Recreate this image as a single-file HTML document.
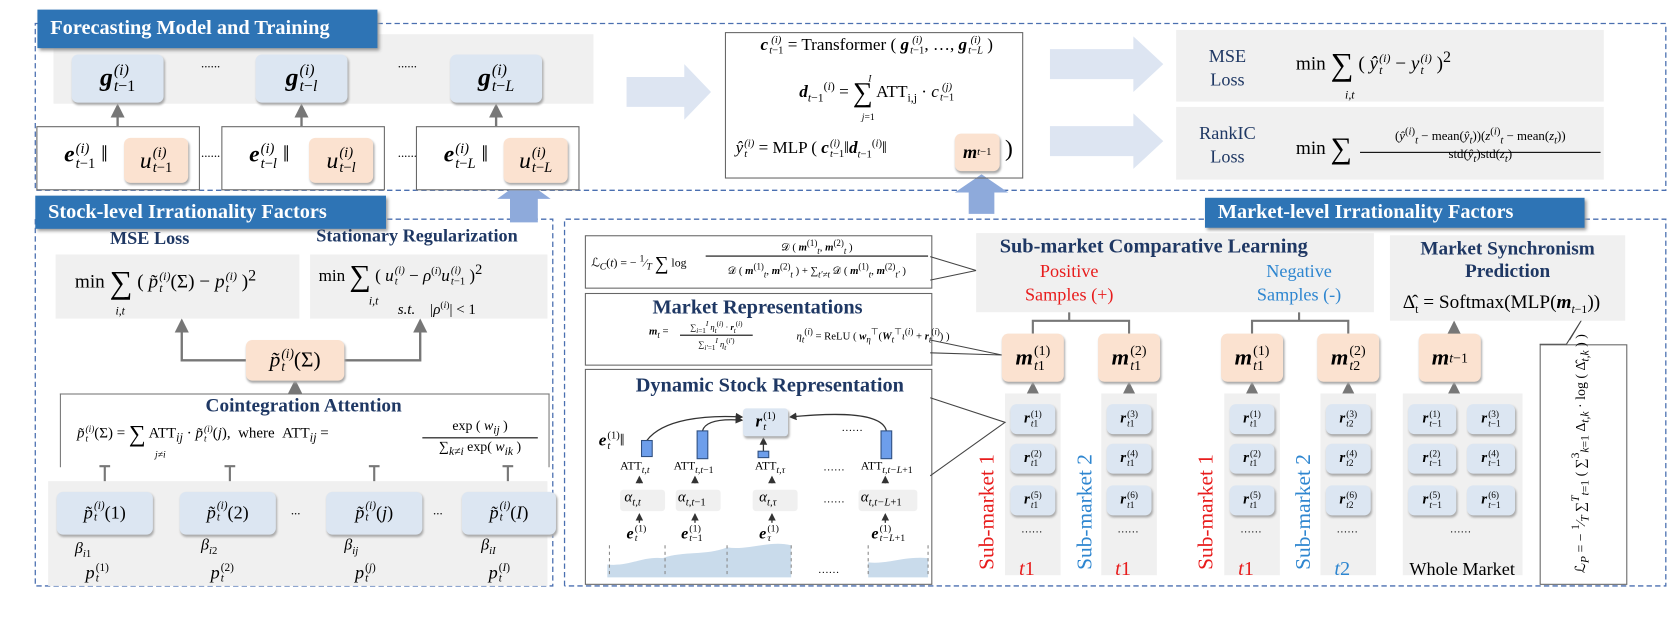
<!DOCTYPE html>
<html><head><meta charset="utf-8"><style>
body{margin:0;background:#fff;}
#w{position:absolute;left:0;top:0;width:1560px;height:593px;transform:scale(1.0692);transform-origin:0 0;font-family:"Liberation Serif",serif;color:#000;overflow:hidden}
.a{position:absolute}
.t{position:absolute;background:#2e74b5;color:#fff;font-weight:bold;font-size:19px;line-height:32px;padding-left:12px;box-shadow:2px 2px 3px #999;white-space:nowrap}
.g{position:absolute;background:#f0f0f0}
.nb{position:absolute;background:#dce6f2;border-radius:6px;box-shadow:1px 2px 2px #aaa;display:flex;align-items:center;justify-content:center;white-space:nowrap}
.np{position:absolute;background:#fbe2d0;border-radius:6px;box-shadow:1px 2px 2px #aaa;display:flex;align-items:center;justify-content:center;white-space:nowrap}
.bx{position:absolute;border:1.3px solid #666;background:transparent}
.hd{color:#1f3864;font-weight:bold}
i{font-style:italic}
.v{font-style:italic;font-weight:bold}
.ss{display:inline-flex;flex-direction:column;vertical-align:middle;line-height:1;font-size:62%;margin-left:1px}
.ss span{display:block}
.c{text-align:center;white-space:nowrap}
.red{color:#e81c1c}.blu{color:#2e86d0}
.rot{position:absolute;transform:rotate(-90deg);transform-origin:left top;white-space:nowrap;font-size:20px}
#top{position:absolute;left:0;top:0}
</style></head><body><div id="w">
<svg class="a" style="left:0;top:0" width="1560" height="593">
<defs><marker id="ar" markerWidth="6" markerHeight="6" refX="5" refY="3" orient="auto"><path d="M0,0 L6,3 L0,6z" fill="#777"/></marker>
<marker id="ak" markerWidth="6" markerHeight="6" refX="5" refY="3" orient="auto"><path d="M0,0 L6,3 L0,6z" fill="#333"/></marker></defs>
<g fill="none" stroke="#4a6fb0" stroke-width="1.2" stroke-dasharray="5,3">
<path d="M33 22 H1558 V178 H33 Z"/>
<path d="M33 205 V548 H517 V205 H361"/>
<path d="M528 548 V205 H1127 M1482 205 H1558 V548 H528"/>
</g>
<rect x="50" y="32" width="505" height="65" fill="#f0f0f0"/>
<g fill="#dde5f2">
<polygon points="586,72 640,72 640,60 665,86 640,112 640,100 586,100"/>
<polygon points="982,46 1060,46 1060,34 1088,60 1060,86 1060,74 982,74"/>
<polygon points="982,118 1060,118 1060,106 1088,132 1060,158 1060,146 982,146"/>
</g>
<g fill="#8eaadb">
<polygon points="477,208 503,208 503,186 515,186 490,168 465,186 477,186"/>
<polygon points="906,200 930,200 930,180 943,180 918,163 893,180 906,180"/>
</g>
<g stroke="#777" stroke-width="2.2" fill="none" marker-end="url(#ar)">
<path d="M110 118 V99"/><path d="M282 118 V99"/><path d="M464 118 V99"/>
<path d="M230 337 H170 V300"/><path d="M322 337 H393 V300"/>
<path d="M276 368 V357"/>
<path d="M98 535 V502"/><path d="M215 535 V502"/><path d="M350 535 V502"/><path d="M475 535 V502"/>
<path d="M966 368 V359"/><path d="M1056 368 V359"/><path d="M1171 368 V359"/><path d="M1261 368 V359"/><path d="M1360 368 V359"/>
<path d="M1360 312 V302"/>
</g>
<g stroke="#777" stroke-width="2" fill="none">
<path d="M98 460 V436 M93 436 H103"/><path d="M215 460 V436 M210 436 H220"/><path d="M350 460 V436 M345 436 H355"/><path d="M475 460 V436 M470 436 H480"/>
<path d="M966 312 V300 H1056 V312 M1000 292 V300"/>
<path d="M1171 312 V300 H1261 V312 M1215 292 V300"/>
</g>
<g fill="#f0f0f0"><rect x="940" y="368" width="52" height="170"/><rect x="1030" y="368" width="52" height="170"/><rect x="1145" y="368" width="52" height="170"/><rect x="1235" y="368" width="52" height="170"/><rect x="1312" y="368" width="112" height="170"/></g>
<rect x="45" y="450" width="467" height="98" fill="#f0f0f0"/>
</svg>

<div class="t" style="left:35px;top:9px;width:306px;height:36px;line-height:36px">Forecasting Model and Training</div>
<div class="t" style="left:33px;top:183px;width:316px;height:31px;line-height:31px">Stock-level Irrationality Factors</div>
<div class="t" style="left:1127px;top:185px;width:343px;height:28px;line-height:28px;padding-left:12px">Market-level Irrationality Factors</div>

<div class="nb" style="left:67px;top:51px;width:86px;height:45px;font-size:24px"><b class="v">g</b><span class="ss"><span><i>(i)</i></span><span><i>t</i>−1</span></span></div>
<div class="nb" style="left:239px;top:51px;width:86px;height:45px;font-size:24px"><b class="v">g</b><span class="ss"><span><i>(i)</i></span><span><i>t</i>−<i>l</i></span></span></div>
<div class="nb" style="left:421px;top:51px;width:86px;height:45px;font-size:24px"><b class="v">g</b><span class="ss"><span><i>(i)</i></span><span><i>t</i>−<i>L</i></span></span></div>
<div class="a" style="left:188px;top:52px;font-size:12px">......</div>
<div class="a" style="left:372px;top:52px;font-size:12px">......</div>
<div class="a" style="left:188px;top:136px;font-size:12px">......</div>
<div class="a" style="left:372px;top:136px;font-size:12px">......</div>

<div class="bx" style="left:34px;top:118px;width:151px;height:58px;background:#fff"></div>
<div class="bx" style="left:207px;top:118px;width:151px;height:58px;background:#fff"></div>
<div class="bx" style="left:389px;top:118px;width:151px;height:58px;background:#fff"></div>
<div class="np" style="left:116px;top:129px;width:60px;height:42px;font-size:22px"><i>u</i><span class="ss"><span><i>(i)</i></span><span><i>t</i>−1</span></span></div>
<div class="np" style="left:289px;top:129px;width:60px;height:42px;font-size:22px"><i>u</i><span class="ss"><span><i>(i)</i></span><span><i>t</i>−<i>l</i></span></span></div>
<div class="np" style="left:471px;top:129px;width:60px;height:42px;font-size:22px"><i>u</i><span class="ss"><span><i>(i)</i></span><span><i>t</i>−<i>L</i></span></span></div>
<div class="a" style="left:60px;top:131px;font-size:22px"><b class="v">e</b><span class="ss"><span><i>(i)</i></span><span><i>t</i>−1</span></span> ‖</div>
<div class="a" style="left:233px;top:131px;font-size:22px"><b class="v">e</b><span class="ss"><span><i>(i)</i></span><span><i>t</i>−<i>l</i></span></span> ‖</div>
<div class="a" style="left:415px;top:131px;font-size:22px"><b class="v">e</b><span class="ss"><span><i>(i)</i></span><span><i>t</i>−<i>L</i></span></span> ‖</div>

<div class="bx" style="left:678px;top:30px;width:277px;height:135px"></div>
<div class="a c" style="left:690px;top:33px;width:260px;font-size:16px"><b class="v">c</b><span class="ss"><span><i>(i)</i></span><span><i>t</i>−1</span></span> = Transformer ( <b class="v">g</b><span class="ss"><span><i>(i)</i></span><span><i>t</i>−1</span></span>, …, <b class="v">g</b><span class="ss"><span><i>(i)</i></span><span><i>t</i>−<i>L</i></span></span> )</div>
<div class="a c" style="left:690px;top:72px;width:260px;font-size:16px"><b class="v">d</b><sub style="font-size:11px"><i>t</i>−1</sub><sup style="font-size:11px">(<i>i</i>)</sup> = <span style="font-size:26px;vertical-align:middle">∑</span> ATT<sub style="font-size:11px">i,j</sub> · <i>c</i><span class="ss"><span><i>(j)</i></span><span><i>t</i>−1</span></span></div>
<div class="a" style="left:812px;top:68px;font-size:9px"><i>I</i></div>
<div class="a" style="left:806px;top:104px;font-size:9px"><i>j</i>=1</div>
<div class="np" style="left:893px;top:125px;width:42px;height:35px;font-size:17px"><b class="v">m</b><sub style="font-size:10px"><i>t</i>−1</sub></div>
<div class="a" style="left:688px;top:129px;font-size:16px;white-space:nowrap"><i>ŷ</i><span class="ss"><span><i>(i)</i></span><span><i>t</i></span></span> = MLP ( <b class="v">c</b><span class="ss"><span><i>(i)</i></span><span><i>t</i>−1</span></span>‖<b class="v">d</b><sub style="font-size:10px"><i>t</i>−1</sub><sup style="font-size:10px">(<i>i</i>)</sup>‖</div>
<div class="a" style="left:940px;top:126px;font-size:22px">)</div>

<div class="g" style="left:1100px;top:28px;width:400px;height:67px"></div>
<div class="g" style="left:1100px;top:100px;width:400px;height:68px"></div>
<div class="a c hd" style="left:1118px;top:42px;width:60px;font-size:17px;line-height:22px;font-weight:normal">MSE<br>Loss</div>
<div class="a c hd" style="left:1112px;top:114px;width:72px;font-size:17px;line-height:22px;font-weight:normal">RankIC<br>Loss</div>
<div class="a" style="left:1212px;top:44px;font-size:18px;white-space:nowrap">min <span style="font-size:30px;vertical-align:middle">∑</span> ( <i>ŷ</i><span class="ss"><span><i>(i)</i></span><span><i>t</i></span></span> − <i>y</i><span class="ss"><span><i>(i)</i></span><span><i>t</i></span></span> )<sup>2</sup></div>
<div class="a" style="left:1258px;top:83px;font-size:11px"><i>i,t</i></div>
<div class="a" style="left:1212px;top:124px;font-size:18px">min <span style="font-size:28px;vertical-align:middle">∑</span></div>
<div class="a c" style="left:1272px;top:114px;width:225px;font-size:12px;border-bottom:1px solid #000;line-height:20px">(<i>ŷ</i><sup>(<i>i</i>)</sup><sub><i>t</i></sub> − mean(<i>ŷ</i><sub><i>t</i></sub>))(<i>z</i><sup>(<i>i</i>)</sup><sub><i>t</i></sub> − mean(<i>z</i><sub><i>t</i></sub>))</div>
<div class="a c" style="left:1272px;top:137px;width:225px;font-size:12px">std(<i>ŷ</i><sub><i>t</i></sub>)std(<i>z</i><sub><i>t</i></sub>)</div>

<!-- left lower -->
<div class="a c hd" style="left:80px;top:213px;width:120px;font-size:17px">MSE Loss</div>
<div class="a c hd" style="left:275px;top:211px;width:230px;font-size:17px">Stationary Regularization</div>
<div class="g" style="left:52px;top:238px;width:228px;height:60px"></div>
<div class="g" style="left:290px;top:238px;width:222px;height:60px"></div>
<div class="a" style="left:70px;top:248px;font-size:18px;white-space:nowrap">min <span style="font-size:30px;vertical-align:middle">∑</span> ( <i>p̃</i><span class="ss"><span><i>(i)</i></span><span><i>t</i></span></span>(Σ) − <i>p</i><span class="ss"><span><i>(i)</i></span><span><i>t</i></span></span> )<sup>2</sup></div>
<div class="a" style="left:108px;top:285px;font-size:11px"><i>i,t</i></div>
<div class="a" style="left:298px;top:243px;font-size:16px;white-space:nowrap">min <span style="font-size:28px;vertical-align:middle">∑</span> ( <i>u</i><span class="ss"><span><i>(i)</i></span><span><i>t</i></span></span> − <i>ρ</i><sup style="font-size:10px">(<i>i</i>)</sup><i>u</i><span class="ss"><span><i>(i)</i></span><span><i>t</i>−1</span></span> )<sup>2</sup></div>
<div class="a" style="left:345px;top:276px;font-size:11px"><i>i,t</i></div>
<div class="a" style="left:372px;top:280px;font-size:14px;white-space:nowrap"><i>s.t.</i> &nbsp;&nbsp; |<i>ρ</i><sup style="font-size:9px">(<i>i</i>)</sup>| &lt; 1</div>

<div class="np" style="left:230px;top:318px;width:92px;height:38px;font-size:20px"><i>p̃</i><span class="ss"><span><i>(i)</i></span><span><i>t</i></span></span>(Σ)</div>

<div class="a" style="left:56px;top:368px;width:456px;height:68px;border:1.3px solid #777;border-bottom:none"></div>
<div class="a c hd" style="left:56px;top:369px;width:456px;font-size:18px">Cointegration Attention</div>
<div class="a" style="left:72px;top:393px;font-size:14px;white-space:nowrap"><i>p̃</i><span class="ss"><span><i>(i)</i></span><span><i>t</i></span></span>(Σ) = <span style="font-size:22px;vertical-align:middle">∑</span> ATT<sub><i>ij</i></sub> · <i>p̃</i><span class="ss"><span><i>(i)</i></span><span><i>t</i></span></span>(<i>j</i>), &nbsp;where &nbsp;ATT<sub><i>ij</i></sub> = </div>
<div class="a c" style="left:395px;top:390px;width:108px;font-size:13px;border-bottom:1px solid #000">exp ( <i>w<sub>ij</sub></i> )</div>
<div class="a c" style="left:395px;top:410px;width:108px;font-size:13px">∑<sub><i>k≠i</i></sub> exp( <i>w<sub>ik</sub></i> )</div>
<div class="a" style="left:145px;top:420px;font-size:9px"><i>j≠i</i></div>
<div class="nb" style="left:53px;top:460px;width:90px;height:40px;font-size:17px"><i>p̃</i><span class="ss"><span><i>(i)</i></span><span><i>t</i></span></span>(1)</div>
<div class="nb" style="left:168px;top:460px;width:90px;height:40px;font-size:17px"><i>p̃</i><span class="ss"><span><i>(i)</i></span><span><i>t</i></span></span>(2)</div>
<div class="nb" style="left:305px;top:460px;width:90px;height:40px;font-size:17px"><i>p̃</i><span class="ss"><span><i>(i)</i></span><span><i>t</i></span></span>(<i>j</i>)</div>
<div class="nb" style="left:432px;top:460px;width:88px;height:40px;font-size:17px"><i>p̃</i><span class="ss"><span><i>(i)</i></span><span><i>t</i></span></span>(<i>I</i>)</div>
<div class="a" style="left:272px;top:470px;font-size:12px">...</div>
<div class="a" style="left:405px;top:470px;font-size:12px">...</div>
<div class="a" style="left:70px;top:505px;font-size:15px"><i>β</i><sub style="font-size:10px"><i>i</i>1</sub></div>
<div class="a" style="left:188px;top:502px;font-size:15px"><i>β</i><sub style="font-size:10px"><i>i</i>2</sub></div>
<div class="a" style="left:322px;top:502px;font-size:15px"><i>β</i><sub style="font-size:10px"><i>ij</i></sub></div>
<div class="a" style="left:450px;top:502px;font-size:15px"><i>β</i><sub style="font-size:10px"><i>iI</i></sub></div>
<div class="a" style="left:80px;top:526px;font-size:17px"><i>p</i><span class="ss"><span>(1)</span><span><i>t</i></span></span></div>
<div class="a" style="left:197px;top:526px;font-size:17px"><i>p</i><span class="ss"><span>(2)</span><span><i>t</i></span></span></div>
<div class="a" style="left:332px;top:526px;font-size:17px"><i>p</i><span class="ss"><span>(<i>j</i>)</span><span><i>t</i></span></span></div>
<div class="a" style="left:457px;top:526px;font-size:17px"><i>p</i><span class="ss"><span>(<i>I</i>)</span><span><i>t</i></span></span></div>

<!-- right lower -->
<div class="bx" style="left:547px;top:220px;width:323px;height:48px"></div>
<div class="a" style="left:553px;top:236px;font-size:11px;white-space:nowrap">ℒ<sub><i>C</i></sub>(<i>t</i>) = − <sup>1</sup>⁄<sub><i>T</i></sub> <span style="font-size:18px;vertical-align:middle">∑</span> log</div>
<div class="a c" style="left:660px;top:223px;width:208px;font-size:10px;border-bottom:1px solid #000">𝒟 ( <b class="v">m</b><sup>(1)</sup><sub><i>t</i></sub>, <b class="v">m</b><sup>(2)</sup><sub><i>t</i></sub> )</div>
<div class="a c" style="left:660px;top:245px;width:208px;font-size:10px;white-space:nowrap">𝒟 ( <b class="v">m</b><sup>(1)</sup><sub><i>t</i></sub>, <b class="v">m</b><sup>(2)</sup><sub><i>t</i></sub> ) + ∑<sub><i>t′≠t</i></sub> 𝒟 ( <b class="v">m</b><sup>(1)</sup><sub><i>t</i></sub>, <b class="v">m</b><sup>(2)</sup><sub><i>t′</i></sub> )</div>

<div class="bx" style="left:547px;top:274px;width:323px;height:66px"></div>
<div class="a c hd" style="left:547px;top:277px;width:323px;font-size:19px">Market Representations</div>
<div class="a" style="left:607px;top:305px;font-size:10px;white-space:nowrap"><b class="v">m</b><sub><i>t</i></sub> = </div>
<div class="a c" style="left:636px;top:300px;width:68px;font-size:8px;border-bottom:1px solid #000">∑<sub><i>i</i>=1</sub><sup><i>I</i></sup> <i>η</i><sub><i>t</i></sub><sup>(<i>i</i>)</sup> · <b class="v">r</b><sub><i>t</i></sub><sup>(<i>i</i>)</sup></div>
<div class="a c" style="left:636px;top:316px;width:68px;font-size:8px">∑<sub><i>i′</i>=1</sub><sup><i>I</i></sup> <i>η</i><sub><i>t</i></sub><sup>(<i>i′</i>)</sup></div>
<div class="a" style="left:745px;top:305px;font-size:10px;white-space:nowrap"><i>η</i><sub><i>t</i></sub><sup>(<i>i</i>)</sup> = ReLU ( <b class="v">w</b><sub><i>η</i></sub><sup>⊤</sup>(<b class="v">W</b><sub><i>t</i></sub><sup>⊤</sup><i>ι</i><sup>(<i>i</i>)</sup> + <b class="v">r</b><sub><i>t</i></sub><sup>(<i>i</i>)</sup>) )</div>

<div class="bx" style="left:547px;top:345px;width:323px;height:200px"></div>
<div class="a c hd" style="left:570px;top:350px;width:300px;font-size:19px">Dynamic Stock Representation</div>

<svg id="top" width="1560" height="593">
<g stroke="#444" stroke-width="1" fill="none">
<path d="M870 240 L913 253 L870 262"/>
<path d="M870 318 L937 332 L870 330"/>
<path d="M870 372 L940 395 L870 445"/>
<path d="M1440 322 L1465 322 L1480 298 L1468 318"/>
</g>
<g stroke="#333" stroke-width="1.2" fill="none" marker-end="url(#ak)">
<path d="M605 412 C620 392 660 388 694 390"/><path d="M657 403 C660 392 680 392 694 393"/>
<path d="M714 422 L714 410"/><path d="M829 403 C825 385 780 386 739 390"/>
<path d="M598 452 V446"/><path d="M650 452 V446"/><path d="M722 452 V446"/><path d="M828 452 V446"/>
<path d="M598 489 V481"/><path d="M650 489 V481"/><path d="M722 489 V481"/><path d="M828 489 V481"/>
</g>
<g fill="#6d9eeb" stroke="#2f4f7f" stroke-width="1"><rect x="600" y="412" width="10" height="15"/><rect x="652" y="403" width="10" height="26"/><rect x="709" y="422" width="10" height="6"/><rect x="824" y="403" width="10" height="26"/></g>
<path d="M568 540 L568 528 C590 530 600 520 620 522 C640 515 660 520 680 512 C700 515 720 505 740 510 L740 540Z M812 540 L812 526 C830 528 845 520 868 522 L868 540Z" fill="#c9dbeb"/>
<g stroke="#888" stroke-dasharray="3,3"><path d="M570 510 V540 M622 510 V540 M680 510 V540 M740 510 V540 M812 510 V540 M868 510 V540"/></g>
</svg>

<div class="nb" style="left:695px;top:382px;width:42px;height:26px;font-size:16px;border-radius:3px"><b class="v">r</b><span class="ss"><span>(1)</span><span><i>t</i></span></span></div>
<div class="a" style="left:560px;top:403px;font-size:16px"><b class="v">e</b><span class="ss"><span>(1)</span><span><i>t</i></span></span>‖</div>
<div class="a" style="left:787px;top:395px;font-size:10px">……</div>
<div class="a" style="left:580px;top:430px;font-size:11px">ATT<sub><i>t,t</i></sub></div>
<div class="a" style="left:630px;top:430px;font-size:11px">ATT<sub><i>t,t</i>−1</sub></div>
<div class="a" style="left:706px;top:430px;font-size:11px">ATT<sub><i>t,τ</i></sub></div>
<div class="a" style="left:770px;top:432px;font-size:10px">……</div>
<div class="a" style="left:805px;top:430px;font-size:11px">ATT<sub><i>t,t−L</i>+1</sub></div>
<div class="g" style="left:580px;top:458px;width:42px;height:20px;border-radius:3px"></div>
<div class="g" style="left:632px;top:458px;width:42px;height:20px;border-radius:3px"></div>
<div class="g" style="left:704px;top:458px;width:42px;height:20px;border-radius:3px"></div>
<div class="g" style="left:803px;top:458px;width:55px;height:20px;border-radius:3px"></div>
<div class="a" style="left:584px;top:458px;font-size:14px"><i>α</i><sub style="font-size:10px"><i>t,t</i></sub></div>
<div class="a" style="left:634px;top:458px;font-size:14px"><i>α</i><sub style="font-size:10px"><i>t,t</i>−1</sub></div>
<div class="a" style="left:710px;top:458px;font-size:14px"><i>α</i><sub style="font-size:10px"><i>t,τ</i></sub></div>
<div class="a" style="left:770px;top:462px;font-size:10px">……</div>
<div class="a" style="left:805px;top:458px;font-size:14px"><i>α</i><sub style="font-size:10px"><i>t,t−L</i>+1</sub></div>
<div class="a" style="left:586px;top:491px;font-size:15px"><b class="v">e</b><span class="ss"><span>(1)</span><span><i>t</i></span></span></div>
<div class="a" style="left:637px;top:491px;font-size:15px"><b class="v">e</b><span class="ss"><span>(1)</span><span><i>t</i>−1</span></span></div>
<div class="a" style="left:710px;top:491px;font-size:15px"><b class="v">e</b><span class="ss"><span>(1)</span><span><i>τ</i></span></span></div>
<div class="a" style="left:815px;top:491px;font-size:15px"><b class="v">e</b><span class="ss"><span>(1)</span><span><i>t−L</i>+1</span></span></div>
<div class="a" style="left:765px;top:528px;font-size:10px">……</div>

<div class="g" style="left:913px;top:218px;width:372px;height:74px"></div>
<div class="a hd" style="left:935px;top:220px;font-size:19px;white-space:nowrap">Sub-market Comparative Learning</div>
<div class="a c red" style="left:950px;top:243px;width:100px;font-size:17px;line-height:22px">Positive<br>Samples (+)</div>
<div class="a c blu" style="left:1160px;top:243px;width:110px;font-size:17px;line-height:22px">Negative<br>Samples (-)</div>
<div class="g" style="left:1300px;top:220px;width:220px;height:80px"></div>
<div class="a c hd" style="left:1300px;top:222px;width:220px;font-size:18px;line-height:21px">Market Synchronism<br>Prediction</div>
<div class="a" style="left:1312px;top:272px;font-size:18px;white-space:nowrap">Δ̂<sub style="font-size:11px">t</sub> = Softmax(MLP(<b class="v">m</b><sub style="font-size:11px"><i>t</i>−1</sub>))</div>

<div class="np" style="left:937px;top:312px;width:58px;height:45px;font-size:21px"><b class="v">m</b><span class="ss"><span>(1)</span><span><i>t</i>1</span></span></div>
<div class="np" style="left:1027px;top:312px;width:58px;height:45px;font-size:21px"><b class="v">m</b><span class="ss"><span>(2)</span><span><i>t</i>1</span></span></div>
<div class="np" style="left:1142px;top:312px;width:58px;height:45px;font-size:21px"><b class="v">m</b><span class="ss"><span>(1)</span><span><i>t</i>1</span></span></div>
<div class="np" style="left:1232px;top:312px;width:58px;height:45px;font-size:21px"><b class="v">m</b><span class="ss"><span>(2)</span><span><i>t</i>2</span></span></div>
<div class="np" style="left:1327px;top:312px;width:58px;height:45px;font-size:21px"><b class="v">m</b><sub style="font-size:13px"><i>t</i>−1</sub></div>

<div class="nb" style="left:945px;top:378px;width:42px;height:28px;font-size:14px"><b class="v">r</b><span class="ss"><span>(1)</span><span><i>t</i>1</span></span></div>
<div class="nb" style="left:945px;top:415px;width:42px;height:28px;font-size:14px"><b class="v">r</b><span class="ss"><span>(2)</span><span><i>t</i>1</span></span></div>
<div class="nb" style="left:945px;top:454px;width:42px;height:28px;font-size:14px"><b class="v">r</b><span class="ss"><span>(5)</span><span><i>t</i>1</span></span></div>
<div class="nb" style="left:1035px;top:378px;width:42px;height:28px;font-size:14px"><b class="v">r</b><span class="ss"><span>(3)</span><span><i>t</i>1</span></span></div>
<div class="nb" style="left:1035px;top:415px;width:42px;height:28px;font-size:14px"><b class="v">r</b><span class="ss"><span>(4)</span><span><i>t</i>1</span></span></div>
<div class="nb" style="left:1035px;top:454px;width:42px;height:28px;font-size:14px"><b class="v">r</b><span class="ss"><span>(6)</span><span><i>t</i>1</span></span></div>
<div class="nb" style="left:1150px;top:378px;width:42px;height:28px;font-size:14px"><b class="v">r</b><span class="ss"><span>(1)</span><span><i>t</i>1</span></span></div>
<div class="nb" style="left:1150px;top:415px;width:42px;height:28px;font-size:14px"><b class="v">r</b><span class="ss"><span>(2)</span><span><i>t</i>1</span></span></div>
<div class="nb" style="left:1150px;top:454px;width:42px;height:28px;font-size:14px"><b class="v">r</b><span class="ss"><span>(5)</span><span><i>t</i>1</span></span></div>
<div class="nb" style="left:1240px;top:378px;width:42px;height:28px;font-size:14px"><b class="v">r</b><span class="ss"><span>(3)</span><span><i>t</i>2</span></span></div>
<div class="nb" style="left:1240px;top:415px;width:42px;height:28px;font-size:14px"><b class="v">r</b><span class="ss"><span>(4)</span><span><i>t</i>2</span></span></div>
<div class="nb" style="left:1240px;top:454px;width:42px;height:28px;font-size:14px"><b class="v">r</b><span class="ss"><span>(6)</span><span><i>t</i>2</span></span></div>
<div class="nb" style="left:1317px;top:378px;width:45px;height:28px;font-size:14px"><b class="v">r</b><span class="ss"><span>(1)</span><span><i>t</i>−1</span></span></div>
<div class="nb" style="left:1372px;top:378px;width:45px;height:28px;font-size:14px"><b class="v">r</b><span class="ss"><span>(3)</span><span><i>t</i>−1</span></span></div>
<div class="nb" style="left:1317px;top:415px;width:45px;height:28px;font-size:14px"><b class="v">r</b><span class="ss"><span>(2)</span><span><i>t</i>−1</span></span></div>
<div class="nb" style="left:1372px;top:415px;width:45px;height:28px;font-size:14px"><b class="v">r</b><span class="ss"><span>(4)</span><span><i>t</i>−1</span></span></div>
<div class="nb" style="left:1317px;top:454px;width:45px;height:28px;font-size:14px"><b class="v">r</b><span class="ss"><span>(5)</span><span><i>t</i>−1</span></span></div>
<div class="nb" style="left:1372px;top:454px;width:45px;height:28px;font-size:14px"><b class="v">r</b><span class="ss"><span>(6)</span><span><i>t</i>−1</span></span></div>
<div class="a" style="left:955px;top:490px;font-size:10px">……</div>
<div class="a" style="left:1045px;top:490px;font-size:10px">……</div>
<div class="a" style="left:1160px;top:490px;font-size:10px">……</div>
<div class="a" style="left:1250px;top:490px;font-size:10px">……</div>
<div class="a" style="left:1356px;top:490px;font-size:10px">……</div>

<div class="rot red" style="left:912px;top:533px">Sub-market 1</div>
<div class="rot blu" style="left:1004px;top:533px">Sub-market 2</div>
<div class="rot red" style="left:1117px;top:533px">Sub-market 1</div>
<div class="rot blu" style="left:1208px;top:533px">Sub-market 2</div>
<div class="a red" style="left:953px;top:522px;font-size:19px"><i>t</i>1</div>
<div class="a red" style="left:1043px;top:522px;font-size:19px"><i>t</i>1</div>
<div class="a red" style="left:1158px;top:522px;font-size:19px"><i>t</i>1</div>
<div class="a blu" style="left:1248px;top:522px;font-size:19px"><i>t</i>2</div>
<div class="a c" style="left:1310px;top:523px;width:115px;font-size:17px">Whole Market</div>

<div class="bx" style="left:1440px;top:322px;width:80px;height:223px"></div>
<div class="rot" style="left:1468px;top:536px;font-size:13px">ℒ<sub><i>P</i></sub> = − <sup>1</sup>⁄<sub><i>T</i></sub> ∑<sup><i>T</i></sup><sub><i>t</i>=1</sub> ( ∑<sup>3</sup><sub><i>k</i>=1</sub> Δ<sub><i>t,k</i></sub> · log ( Δ̂<sub><i>t,k</i></sub> ) )</div>
</div></body></html>
